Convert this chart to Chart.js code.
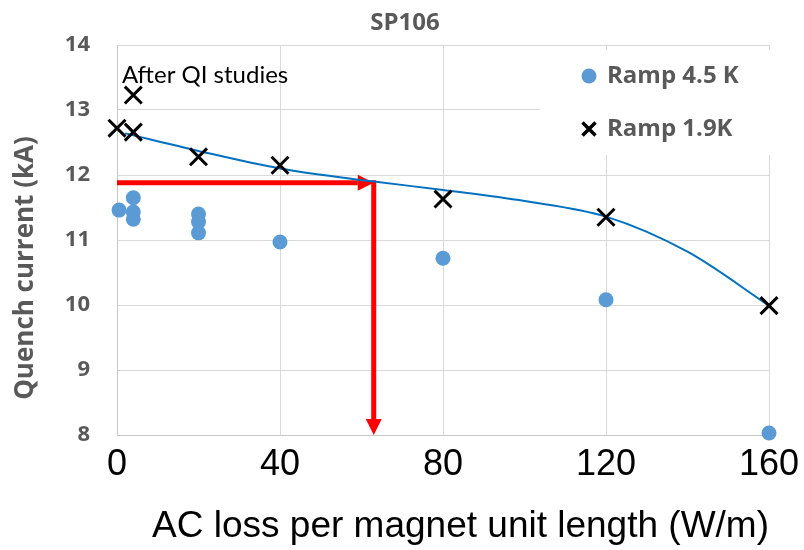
<!DOCTYPE html>
<html>
<head>
<meta charset="utf-8">
<script src="https://cdn.jsdelivr.net/npm/chart.js@4"></script>
<style>
  body { margin: 0; background: #fff; }
  #wrap { width: 804px; height: 550px; }
</style>
</head>
<body>
<div id="wrap"><canvas id="sp106"></canvas></div>
<script>
// Ramp 4.5 K quenches (blue dots)
const ramp45X = [0.5, 4, 4, 4, 20, 20, 20, 40, 80, 120, 160];
const ramp45Y = [11.46, 11.65, 11.43, 11.32, 11.4, 11.28, 11.11, 10.97, 10.72, 10.08, 8.03];

// Ramp 1.9 K quenches (black crosses)
const ramp19X = [0, 4, 4, 20, 40, 80, 120, 160];
const ramp19Y = [12.72, 13.23, 12.66, 12.28, 12.15, 11.63, 11.35, 9.99];

// smoothed trend line through the 1.9 K data
const trendX = [2, 20, 40, 63, 80, 100, 120, 140, 160];
const trendY = [12.64, 12.37, 12.1, 11.9, 11.77, 11.6, 11.36, 10.82, 9.99];

// red arrows: horizontal then down to the axis
const arrowFromX = [0, 63];
const arrowFromY = [11.88, 11.88];
const arrowToX = [63, 63];
const arrowToY = [11.88, 8];

// note placed in the plot
const noteText = 'After QI studies';
const noteX = 1.2;
const noteY = 13.54;

const yTicks = [8, 9, 10, 11, 12, 13, 14];
const xTicks = [0, 40, 80, 120, 160];
const chartTitle = 'SP106';
const yTitle = 'Quench current (kA)';

const grey = '#595959';
const toPoints = (xs, ys) => xs.map((x, i) => ({ x: x, y: ys[i] }));

// white legend box in the top right corner, drawn over the grid
const legendBox = {
    id: 'legendBox',
    beforeDatasetsDraw(chart) {
        const { ctx, chartArea } = chart;
        ctx.save();
        ctx.fillStyle = '#fff';
        ctx.fillRect(chartArea.right - 229, chartArea.top + 5, 236, 105);

        // circle entry
        ctx.fillStyle = '#5B9BD5';
        ctx.beginPath();
        ctx.arc(chartArea.right - 180, chartArea.top + 31, 7.5, 0, Math.PI * 2);
        ctx.fill();

        // cross entry
        ctx.strokeStyle = '#000';
        ctx.lineWidth = 3.5;
        const cx = chartArea.right - 180, cy = chartArea.top + 84, h = 6.5;
        ctx.beginPath();
        ctx.moveTo(cx - h, cy - h); ctx.lineTo(cx + h, cy + h);
        ctx.moveTo(cx - h, cy + h); ctx.lineTo(cx + h, cy - h);
        ctx.stroke();

        ctx.fillStyle = grey;
        ctx.font = 'bold 24px "Open Sans"';
        ctx.textAlign = 'left';
        ctx.textBaseline = 'middle';
        ctx.fillText('Ramp 4.5 K', chartArea.right - 162, chartArea.top + 31);
        ctx.fillText('Ramp 1.9K', chartArea.right - 162, chartArea.top + 84);
        ctx.restore();
    }
};

// red arrows and the text note, placed through the scales
const arrowsAndNote = {
    id: 'arrowsAndNote',
    beforeDatasetsDraw(chart) {
        const { ctx } = chart;
        const xs = chart.scales.x, ys = chart.scales.y;
        ctx.save();
        ctx.fillStyle = '#FF0000';
        ctx.strokeStyle = '#FF0000';
        ctx.lineWidth = 5;
        for (let i = 0; i < arrowFromX.length; i++) {
            const x0 = xs.getPixelForValue(arrowFromX[i]);
            const y0 = ys.getPixelForValue(arrowFromY[i]);
            const x1 = xs.getPixelForValue(arrowToX[i]);
            const y1 = ys.getPixelForValue(arrowToY[i]);
            const ang = Math.atan2(y1 - y0, x1 - x0);
            const len = 16, half = 8;
            const bx = x1 - Math.cos(ang) * len, by = y1 - Math.sin(ang) * len;
            ctx.beginPath();
            ctx.moveTo(x0, y0 - (i === 1 ? 2.5 : 0));
            ctx.lineTo(bx, by);
            ctx.stroke();
            ctx.beginPath();
            ctx.moveTo(x1, y1);
            ctx.lineTo(bx - Math.sin(ang) * half, by + Math.cos(ang) * half);
            ctx.lineTo(bx + Math.sin(ang) * half, by - Math.cos(ang) * half);
            ctx.closePath();
            ctx.fill();
        }

        ctx.fillStyle = '#000';
        ctx.font = '24px Lato';
        ctx.textAlign = 'left';
        ctx.textBaseline = 'middle';
        ctx.fillText(noteText, xs.getPixelForValue(noteX), ys.getPixelForValue(noteY));
        ctx.restore();
    },
    // chart title and y-axis title, placed like in the original slide
    afterDraw(chart) {
        const { ctx, chartArea } = chart;
        ctx.save();
        ctx.fillStyle = grey;
        ctx.textAlign = 'center';
        ctx.textBaseline = 'middle';
        ctx.font = 'bold 24px "Open Sans"';
        ctx.fillText(chartTitle, 405, 23);

        ctx.translate(26, (chartArea.top + chartArea.bottom) / 2 + 28);
        ctx.rotate(-Math.PI / 2);
        ctx.font = 'bold 26px "Open Sans"';
        ctx.fillText(yTitle, 0, 0);
        ctx.restore();
    }
};

new Chart(document.getElementById('sp106'), {
    type: 'scatter',
    data: {
        datasets: [
            {
                label: 'Ramp 1.9K',
                data: toPoints(ramp19X, ramp19Y),
                pointStyle: 'crossRot',
                pointRadius: 12,
                borderColor: '#000',
                backgroundColor: '#000',
                pointBorderWidth: 3,
                clip: false,
                order: 0,
            },
            {
                label: 'Ramp 4.5 K',
                data: toPoints(ramp45X, ramp45Y),
                pointStyle: 'circle',
                pointRadius: 7.5,
                borderWidth: 0,
                backgroundColor: '#5B9BD5',
                clip: false,
                order: 1,
            },
            {
                label: 'trend',
                data: toPoints(trendX, trendY),
                showLine: true,
                pointRadius: 0,
                borderColor: '#0070C0',
                borderWidth: 2,
                cubicInterpolationMode: 'monotone',
                order: 2,
            },
        ],
    },
    options: {
        responsive: true,
        maintainAspectRatio: false,
        animation: false,
        layout: { padding: { left: 0, right: 35, top: 45, bottom: 0 } },
        plugins: {
            legend: { display: false },
            tooltip: { enabled: false },
            title: { display: false },
        },
        scales: {
            x: {
                type: 'linear',
                min: 0,
                max: 160,
                afterBuildTicks: (axis) => { axis.ticks = xTicks.map(v => ({ value: v })); },
                afterFit: (axis) => {
                    axis.height = 115;
                    axis.paddingLeft = 0;
                    axis.paddingRight = 0;
                },
                grid: { color: '#d9d9d9', drawTicks: false },
                border: { color: '#c8c8c8' },
                ticks: {
                    color: '#000',
                    padding: 8,
                    font: { family: 'Liberation Sans', size: 36 },
                    maxRotation: 0,
                },
                title: {
                    display: true,
                    text: 'AC loss per magnet unit length (W/m)',
                    align: 'end',
                    color: '#000',
                    font: { family: 'Liberation Sans', size: 37 },
                    padding: { top: 0, bottom: 1 },
                },
            },
            y: {
                min: 8,
                max: 14,
                afterBuildTicks: (axis) => { axis.ticks = yTicks.map(v => ({ value: v })); },
                afterFit: (axis) => {
                    axis.width = 117;
                    axis.paddingTop = 0;
                    axis.paddingBottom = 0;
                },
                grid: { color: '#d9d9d9', drawTicks: false },
                border: { color: '#c8c8c8' },
                ticks: {
                    color: grey,
                    padding: 27,
                    font: { family: 'Open Sans', size: 22, weight: 'bold' },
                },
            },
        },
    },
    plugins: [legendBox, arrowsAndNote],
});
</script>
</body>
</html>
